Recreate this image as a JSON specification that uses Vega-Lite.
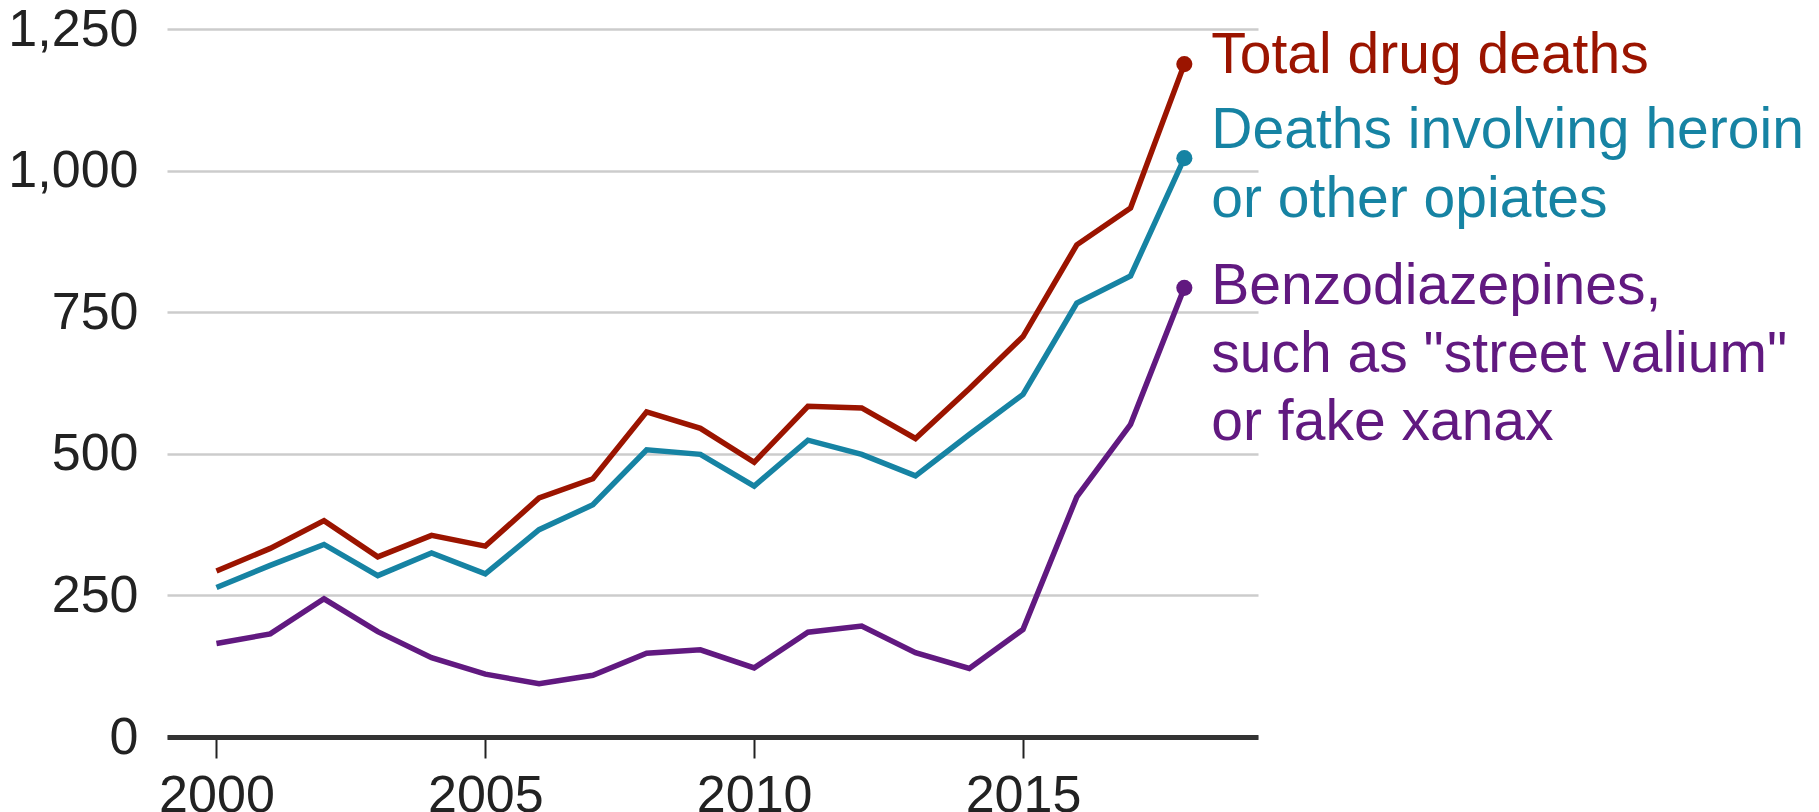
{
  "$schema": "https://vega.github.io/schema/vega-lite/v6.json",
  "width": 1091,
  "height": 708,
  "autosize": {"type": "none"},
  "padding": {"left": 167, "top": 29, "right": 561, "bottom": 75},
  "background": "white",
  "config": {"view": {"stroke": null}, "font": "Liberation Sans"},
  "datasets": {
    "deaths": [
      {"year": 2000, "series": "Total", "value": 293},
      {"year": 2001, "series": "Total", "value": 333},
      {"year": 2002, "series": "Total", "value": 382},
      {"year": 2003, "series": "Total", "value": 318},
      {"year": 2004, "series": "Total", "value": 356},
      {"year": 2005, "series": "Total", "value": 337},
      {"year": 2006, "series": "Total", "value": 422},
      {"year": 2007, "series": "Total", "value": 456},
      {"year": 2008, "series": "Total", "value": 574},
      {"year": 2009, "series": "Total", "value": 545},
      {"year": 2010, "series": "Total", "value": 485},
      {"year": 2011, "series": "Total", "value": 584},
      {"year": 2012, "series": "Total", "value": 581},
      {"year": 2013, "series": "Total", "value": 527},
      {"year": 2014, "series": "Total", "value": 615},
      {"year": 2015, "series": "Total", "value": 707},
      {"year": 2016, "series": "Total", "value": 869},
      {"year": 2017, "series": "Total", "value": 934},
      {"year": 2018, "series": "Total", "value": 1188},
      {"year": 2000, "series": "Opiates", "value": 264},
      {"year": 2001, "series": "Opiates", "value": 303},
      {"year": 2002, "series": "Opiates", "value": 340},
      {"year": 2003, "series": "Opiates", "value": 285},
      {"year": 2004, "series": "Opiates", "value": 325},
      {"year": 2005, "series": "Opiates", "value": 288},
      {"year": 2006, "series": "Opiates", "value": 366},
      {"year": 2007, "series": "Opiates", "value": 410},
      {"year": 2008, "series": "Opiates", "value": 507},
      {"year": 2009, "series": "Opiates", "value": 499},
      {"year": 2010, "series": "Opiates", "value": 443},
      {"year": 2011, "series": "Opiates", "value": 524},
      {"year": 2012, "series": "Opiates", "value": 499},
      {"year": 2013, "series": "Opiates", "value": 461},
      {"year": 2014, "series": "Opiates", "value": 534},
      {"year": 2015, "series": "Opiates", "value": 605},
      {"year": 2016, "series": "Opiates", "value": 766},
      {"year": 2017, "series": "Opiates", "value": 814},
      {"year": 2018, "series": "Opiates", "value": 1022},
      {"year": 2000, "series": "Benzo", "value": 165},
      {"year": 2001, "series": "Benzo", "value": 182},
      {"year": 2002, "series": "Benzo", "value": 244},
      {"year": 2003, "series": "Benzo", "value": 186},
      {"year": 2004, "series": "Benzo", "value": 140},
      {"year": 2005, "series": "Benzo", "value": 111},
      {"year": 2006, "series": "Benzo", "value": 94},
      {"year": 2007, "series": "Benzo", "value": 109},
      {"year": 2008, "series": "Benzo", "value": 148},
      {"year": 2009, "series": "Benzo", "value": 154},
      {"year": 2010, "series": "Benzo", "value": 122},
      {"year": 2011, "series": "Benzo", "value": 185},
      {"year": 2012, "series": "Benzo", "value": 196},
      {"year": 2013, "series": "Benzo", "value": 149},
      {"year": 2014, "series": "Benzo", "value": 121},
      {"year": 2015, "series": "Benzo", "value": 190},
      {"year": 2016, "series": "Benzo", "value": 424},
      {"year": 2017, "series": "Benzo", "value": 552},
      {"year": 2018, "series": "Benzo", "value": 793}
    ],
    "labels": [
      {"series": "Total", "label": ["Total drug deaths"]},
      {"series": "Opiates", "label": ["Deaths involving heroin", "or other opiates"]},
      {"series": "Benzo", "label": ["Benzodiazepines,", "such as \"street valium\"", "or fake xanax"]}
    ]
  },
  "data": {"name": "deaths"},
  "encoding": {
    "x": {
      "field": "year",
      "type": "quantitative",
      "scale": {"domain": [1999.08, 2019.37], "nice": false, "zero": false},
      "axis": {
        "title": null,
        "values": [2000, 2005, 2010, 2015],
        "format": "d",
        "grid": false,
        "labelFont": "Liberation Sans",
        "labelFontSize": 52,
        "labelColor": "#222222",
        "labelPadding": 12,
        "tickSize": 21,
        "tickWidth": 2,
        "tickColor": "#222222",
        "domainColor": "#333333",
        "domainWidth": 5,
        "zindex": 1
      }
    },
    "y": {
      "field": "value",
      "type": "quantitative",
      "scale": {"domain": [0, 1250], "nice": false},
      "axis": {
        "title": null,
        "values": [0, 250, 500, 750, 1000, 1250],
        "format": ",d",
        "ticks": false,
        "domain": false,
        "labelFont": "Liberation Sans",
        "labelFontSize": 52,
        "labelColor": "#222222",
        "labelPadding": 29,
        "gridColor": "#cccccc",
        "gridWidth": 2.5
      }
    },
    "color": {
      "field": "series",
      "type": "nominal",
      "scale": {"domain": ["Total", "Opiates", "Benzo"], "range": ["#9b1400", "#1683a3", "#611980"]},
      "legend": null
    }
  },
  "layer": [
    {
      "mark": {"type": "line", "strokeWidth": 5.5, "strokeJoin": "miter", "strokeCap": "butt"},
      "encoding": {"detail": {"field": "series"}}
    },
    {
      "transform": [{"filter": "datum.year == 2018"}],
      "mark": {"type": "circle", "size": 260, "opacity": 1}
    },
    {
      "transform": [
        {"filter": "datum.year == 2018 && datum.series == 'Total'"},
        {"lookup": "series", "from": {"data": {"name": "labels"}, "key": "series", "fields": ["label"]}}
      ],
      "mark": {"type": "text", "align": "left", "baseline": "alphabetic", "dx": 27, "dy": 9, "fontSize": 57, "lineHeight": 68, "font": "Liberation Sans"},
      "encoding": {"text": {"field": "label"}}
    },
    {
      "transform": [
        {"filter": "datum.year == 2018 && datum.series == 'Opiates'"},
        {"lookup": "series", "from": {"data": {"name": "labels"}, "key": "series", "fields": ["label"]}}
      ],
      "mark": {"type": "text", "align": "left", "baseline": "alphabetic", "dx": 27, "dy": -10, "fontSize": 57, "lineHeight": 69, "font": "Liberation Sans"},
      "encoding": {"text": {"field": "label"}}
    },
    {
      "transform": [
        {"filter": "datum.year == 2018 && datum.series == 'Benzo'"},
        {"lookup": "series", "from": {"data": {"name": "labels"}, "key": "series", "fields": ["label"]}}
      ],
      "mark": {"type": "text", "align": "left", "baseline": "alphabetic", "dx": 27, "dy": 16, "fontSize": 57, "lineHeight": 68, "font": "Liberation Sans"},
      "encoding": {"text": {"field": "label"}}
    }
  ]
}
